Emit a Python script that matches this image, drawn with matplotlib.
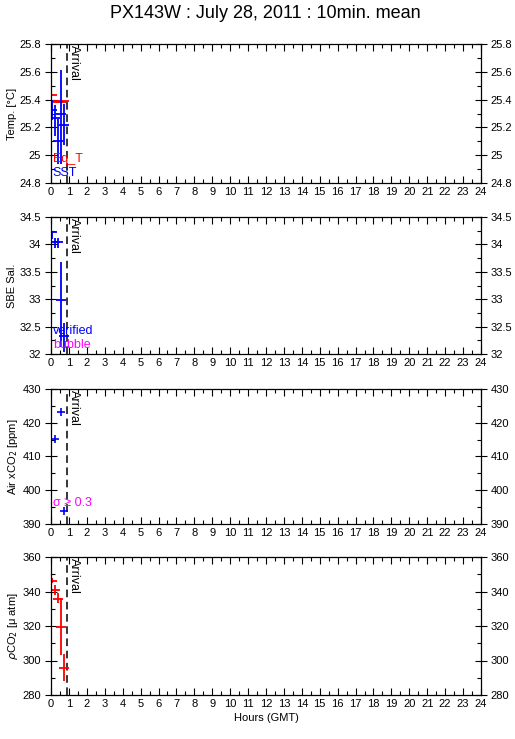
import matplotlib
matplotlib.use("Agg")
import matplotlib.pyplot as plt
from matplotlib.ticker import MultipleLocator
import numpy as np

plt.rcParams['font.family'] = ['Liberation Sans', 'DejaVu Sans']

# ---- data ----
hours = [0.083, 0.25, 0.417, 0.583, 0.75]
arrival_hour = 0.87

sst = [25.325, 25.27, 25.10, 25.30, 25.22]
sst_lo = [25.25, 25.14, 24.94, 24.94, 25.07]
sst_hi = [25.40, 25.36, 25.26, 25.61, 25.37]
eqt = [25.43, 25.39, 25.38, 25.38, 25.39]

sal = [34.22, 34.04, 34.04, 32.99, 32.32]
sal_lo = [34.10, 33.93, 33.93, 32.13, 32.04]
sal_hi = [34.25, 34.11, 34.11, 33.68, 32.57]

air_hours = [0.25, 0.583, 0.75]
air_xco2 = [415.1, 423.1, 393.9]

pco2 = [346.3, 340.9, 335.7, 319.6, 295.5]
pco2_lo = [344.9, 338.0, 333.3, 303.2, 287.9]
pco2_hi = [347.8, 343.8, 339.1, 336.2, 303.8]

xticks = list(range(0, 25))

fig = plt.figure(figsize=(5.15, 7.39), dpi=100)
W, H = 515.0, 739.0
L, R = 51.0, 481.0
panels = [(44, 183), (217, 354), (389, 524), (557, 695)]

def mkax(top, bot):
    return fig.add_axes([L / W, 1 - bot / H, (R - L) / W, (bot - top) / H])

axes = [mkax(t, b) for t, b in panels]
fs = 8

def style(ax, ylim, major, minor):
    ax.set_xlim(0, 24)
    ax.set_ylim(*ylim)
    ax.xaxis.set_major_locator(MultipleLocator(1))
    ax.xaxis.set_minor_locator(MultipleLocator(0.5))
    ax.yaxis.set_major_locator(MultipleLocator(major))
    ax.yaxis.set_minor_locator(MultipleLocator(minor))
    ax.tick_params(which='major', direction='in', length=5, width=0.8,
                   top=True, right=True, labelright=True, labelsize=fs, pad=3)
    ax.tick_params(axis='y', which='major', direction='inout', length=8)
    ax.tick_params(which='minor', direction='in', length=3, width=0.8,
                   top=True, right=True)
    for s in ax.spines.values():
        s.set_linewidth(0.9)
    ax.axvline(arrival_hour, color='black', ls=(0, (5, 3)), lw=1.1)
    ax.text(arrival_hour + 0.05, ylim[1] - (ylim[1] - ylim[0]) * 0.01, 'Arrival',
            rotation=-90, ha='left', va='top', fontsize=9, color='black')

def eb(ax, x, y, lo, hi, color, ms=7):
    y = np.array(y); lo = np.array(lo); hi = np.array(hi)
    ax.errorbar(x, y, yerr=[y - lo, hi - y], fmt='none', ecolor=color,
                elinewidth=1.3, capsize=0)
    ax.plot(x, y, ls='none', marker='_', ms=ms, mew=1.3, color=color)

# Panel 1: temperature
ax = axes[0]
style(ax, (24.8, 25.8), 0.2, 0.1)
ax.plot(hours, eqt, ls='none', marker='_', ms=7, mew=1.3, color='red')
eb(ax, hours, sst, sst_lo, sst_hi, 'blue')
ax.set_yticks(np.arange(24.8, 25.81, 0.2))
ax.set_yticklabels(['24.8', '25', '25.2', '25.4', '25.6', '25.8'])
ax.set_ylabel('Temp. [°C]', fontsize=fs, labelpad=2)
ax.text(0.1, 24.975, 'Eq_T', color='red', fontsize=9, ha='left', va='center')
ax.text(0.1, 24.875, 'SST', color='blue', fontsize=9, ha='left', va='center')

# Panel 2: salinity
ax = axes[1]
style(ax, (32, 34.5), 0.5, 0.25)
eb(ax, hours, sal, sal_lo, sal_hi, 'blue')
ax.set_yticks(np.arange(32, 34.51, 0.5))
ax.set_yticklabels(['32', '32.5', '33', '33.5', '34', '34.5'])
ax.set_ylabel('SBE Sal.', fontsize=fs, labelpad=2)
ax.text(0.1, 32.42, 'verified', color='blue', fontsize=9, ha='left', va='center')
ax.text(0.1, 32.17, 'bubble', color='magenta', fontsize=9, ha='left', va='center')

# Panel 3: air xCO2
ax = axes[2]
style(ax, (390, 430), 10, 5)
ax.plot(air_hours, air_xco2, ls='none', marker='+', ms=6, mew=1.2, color='blue')
ax.set_ylabel('Air xCO$_2$ [ppm]', fontsize=fs, labelpad=2)
ax.text(0.1, 396.3, 'σ ≥ 0.3', color='magenta', fontsize=9, ha='left', va='center')

# Panel 4: pCO2
ax = axes[3]
style(ax, (280, 360), 20, 10)
eb(ax, hours, pco2, pco2_lo, pco2_hi, 'red')
ax.set_ylabel('$\\rho$CO$_2$ [μ atm]', fontsize=fs, labelpad=2)
ax.set_xlabel('Hours (GMT)', fontsize=fs, labelpad=3)

for ax in axes:
    ax.set_xticks(xticks)
    ax.set_xticklabels([str(t) for t in xticks])

fig.text(0.515, 1 - 13 / H, 'PX143W : July 28, 2011 : 10min. mean', ha='center',
         va='center', fontsize=13)

fig.savefig('out.png', dpi=100)
